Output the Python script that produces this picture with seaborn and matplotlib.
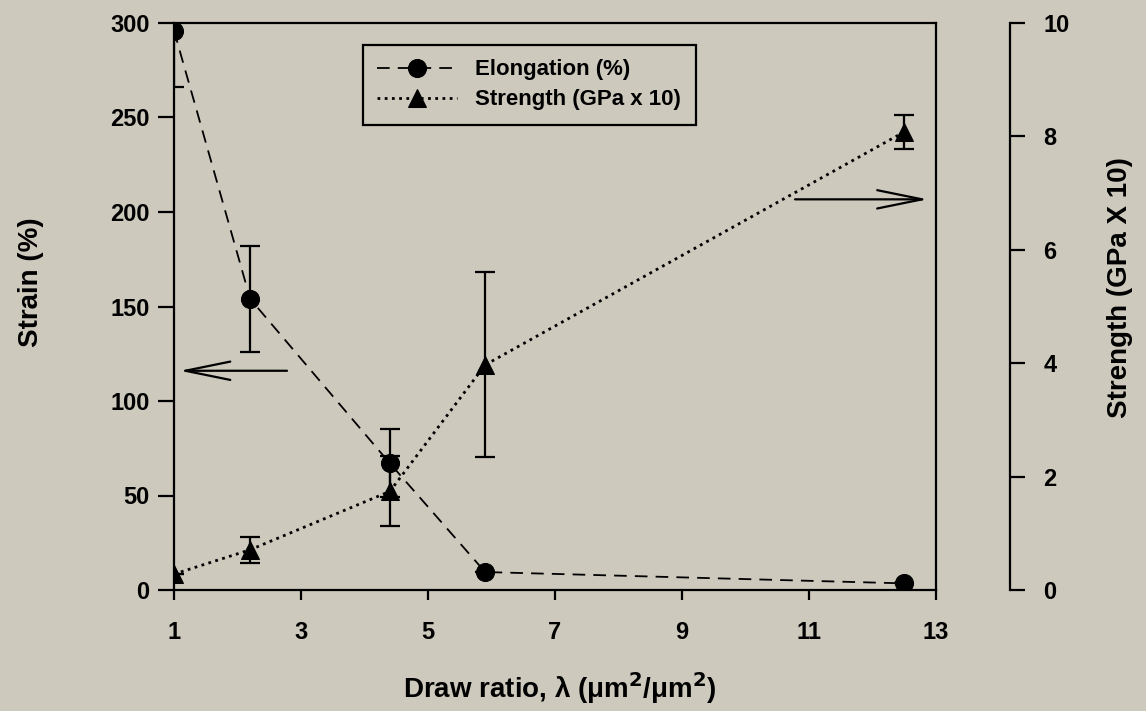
import matplotlib
matplotlib.use("Agg")
import matplotlib.pyplot as plt
import seaborn as sns
import pandas as pd

# ---- data ----
draw_ratio = [1.0, 2.2, 4.4, 5.9, 12.5]
elongation = [296, 154, 67, 9.5, 3.5]          # Strain (%)
elongation_err = [30, 28, 18, 0, 0]
strength = [0.28, 0.71, 1.74, 3.97, 8.08]      # GPa x 10
strength_err = [0.0, 0.23, 0.62, 1.63, 0.30]
x_ticks = [1, 3, 5, 7, 9, 11, 13]
left_ticks = [0, 50, 100, 150, 200, 250, 300]
right_ticks = [0, 2, 4, 6, 8, 10]

BG = "#cdc9bd"
sns.set_theme(style="ticks")
plt.rcParams["font.family"] = ["Liberation Sans", "DejaVu Sans"]
plt.rcParams["font.weight"] = "bold"
plt.rcParams["text.color"] = "black"
plt.rcParams["axes.labelcolor"] = "black"

fig = plt.figure(figsize=(11.46, 7.11), dpi=100, facecolor=BG)
ax = fig.add_axes([174/1146, 1-590/711, (936-174)/1146, (590-23)/711])
ax.set_facecolor(BG)

df_e = pd.DataFrame({"x": draw_ratio, "y": elongation})
df_s = pd.DataFrame({"x": draw_ratio, "y": strength})

sns.lineplot(data=df_e, x="x", y="y", ax=ax, color="black", lw=1.3,
             marker="o", markersize=13, markeredgecolor="black",
             dashes=False, label="Elongation (%)", zorder=3)
ax.lines[-1].set_dashes((7, 4.5))
ax.errorbar(draw_ratio, elongation, yerr=elongation_err, fmt="none",
            ecolor="black", elinewidth=1.6, capsize=7, capthick=1.6, zorder=2)

ax2 = ax.twinx()
sns.lineplot(data=df_s, x="x", y="y", ax=ax2, color="black", lw=2,
             marker="^", markersize=13, markeredgecolor="black",
             label="Strength (GPa x 10)", zorder=3)
ax2.lines[-1].set_dashes((1, 1.6))
ax2.errorbar(draw_ratio, strength, yerr=strength_err, fmt="none",
             ecolor="black", elinewidth=1.6, capsize=7, capthick=1.6, zorder=2)

ax.set_xlim(1, 13)
ax.set_ylim(0, 300)
ax2.set_ylim(0, 10)
ax.set_xticks(x_ticks)
ax.set_yticks(left_ticks)
ax2.set_yticks(right_ticks)

for s in ax.spines.values():
    s.set_linewidth(1.6)
    s.set_color("black")
for name, s in ax2.spines.items():
    if name != "right":
        s.set_visible(False)
ax2.spines["right"].set_position(("axes", (1010-174)/762))
ax2.spines["right"].set_linewidth(1.6)
ax2.spines["right"].set_color("black")

ax.tick_params(axis="y", direction="out", length=11.5, width=1.6, pad=6,
               labelsize=17, colors="black")
ax.tick_params(axis="x", direction="out", length=7, width=1.6, pad=15,
               labelsize=17, colors="black")
ax2.tick_params(axis="y", direction="out", length=11, width=1.6, pad=13,
                labelsize=17, colors="black")
for lab in ax.get_xticklabels() + ax.get_yticklabels() + ax2.get_yticklabels():
    lab.set_fontweight("bold")

ax.set_xlabel("Draw ratio, λ (μm$^{\\mathbf{2}}$/μm$^{\\mathbf{2}}$)",
              fontsize=20, fontweight="bold", color="black")
ax.set_ylabel("Strain (%)", fontsize=20, fontweight="bold", color="black")
ax2.set_ylabel("Strength (GPa X 10)", fontsize=20, fontweight="bold",
               rotation=90, color="black")
for lbl in (ax.xaxis.label, ax.yaxis.label, ax2.yaxis.label):
    lbl.set_va("center")
    lbl.set_ha("center")
ax.xaxis.set_label_coords((560-174)/762, (590-688)/567)
ax.yaxis.set_label_coords((31-174)/762, (590-282)/567)
ax2.yaxis.set_label_coords((1120-174)/762, (590-288)/567)

# arrows pointing to the respective axes
arrow_kw = dict(arrowstyle="->,head_length=2.7,head_width=0.55",
                color="black", lw=1.6, shrinkA=0, shrinkB=0)
ax.annotate("", xy=(1.09, 116), xytext=(2.78, 116), arrowprops=arrow_kw)
ax.annotate("", xy=(12.87, 206.7), xytext=(10.78, 206.7), arrowprops=arrow_kw)

# legend
ax.get_legend().remove()
ax2.get_legend().remove()
h1, l1 = ax.get_legend_handles_labels()
h2, l2 = ax2.get_legend_handles_labels()
leg = ax2.legend(h1 + h2, l1 + l2, loc="upper left",
                 bbox_to_anchor=((363-174)/762, (590-45)/567),
                 borderaxespad=0, frameon=True, fancybox=False,
                 facecolor=BG, edgecolor="black", framealpha=1,
                 prop=dict(size=16, weight="bold"), handlelength=3.6,
                 borderpad=0.65, labelspacing=0.4, handletextpad=0.8)
leg.get_frame().set_linewidth(1.6)
for t in leg.get_texts():
    t.set_color("black")

fig.savefig("out.png", dpi=100, facecolor=BG)
